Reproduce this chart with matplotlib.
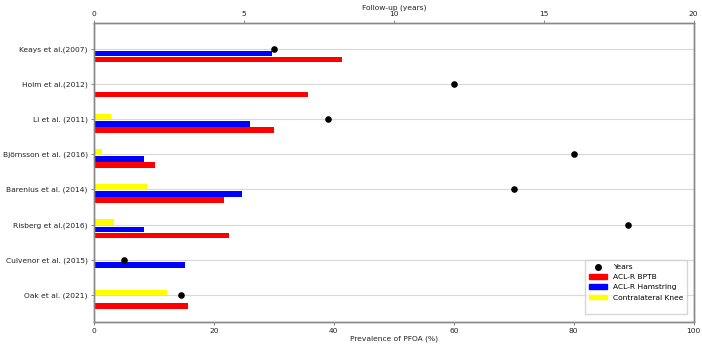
import numpy as np
import matplotlib.pyplot as plt
from matplotlib.lines import Line2D
from matplotlib.patches import Patch

studies = ['Keays et al.(2007)', 'Holm et al.(2012)', 'Li et al. (2011)',
           'Björnsson et al. (2016)', 'Barenius et al. (2014)',
           'Risberg et al.(2016)', 'Culvenor et al. (2015)', 'Oak et al. (2021)']
bptb = [41.4, 35.7, 30.0, 10.1, 21.6, 22.5, 0, 15.7]
hamstring = [29.6, 0, 26.0, 8.3, 24.6, 8.3, 15.2, 0]
contralateral = [0, 0, 2.8, 1.3, 8.8, 3.3, 0, 12.2]
years = [6.0, 12.0, 7.8, 16.0, 14.0, 17.8, 1.0, 2.9]

ind = np.arange(len(studies))
h = 0.16
fs = 5.4

fig = plt.figure(figsize=(7.02, 3.46), dpi=100)
ax = fig.add_axes([0.134, 0.070, 0.854, 0.864])
ax.barh(ind - 0.07, contralateral, height=h, color='yellow')
ax.barh(ind + 0.14, hamstring, height=h, color='blue')
ax.barh(ind + 0.31, bptb, height=h, color='red')
ax.set_xlim(0, 100)
ax.set_ylim(7.76, -0.73)
ax.set_yticks(ind)
ax.set_yticklabels(studies)
ax.grid(axis='y', color='#d8d8d8', linewidth=0.8)
ax.set_axisbelow(True)
ax.set_xlabel('Prevalence of PFOA (%)', fontsize=fs, labelpad=1, color='#222222')
ax.tick_params(labelsize=fs, length=2.5, width=0.6, color='#777777', pad=2,
               labelcolor='#222222')
for s in ax.spines.values():
    s.set_color('#888888')
    s.set_linewidth(1.0)

ax2 = ax.twiny()
ax2.scatter(years, ind, color='black', s=14, zorder=3)
ax2.set_xlim(0, 20)
ax2.set_xticks([0, 5, 10, 15, 20])
ax2.set_xlabel('Follow-up (years)', fontsize=fs, labelpad=1, color='#222222')
ax2.tick_params(labelsize=fs, length=2.5, width=0.6, color='#777777', pad=1.5,
                labelcolor='#222222')
for s in ax2.spines.values():
    s.set_color('#888888')
    s.set_linewidth(1.0)

handles = [Line2D([], [], marker='o', color='black', linestyle='None', markersize=4),
           Patch(color='red'), Patch(color='blue'), Patch(color='yellow'),
           Patch(color='none')]
labels = ['Years', 'ACL-R BPTB', 'ACL-R Hamstring', 'Contralateral Knee', '']
ax2.legend(handles, labels, loc='lower right', fontsize=fs, handlelength=2.4,
           handleheight=0.6, labelspacing=0.55, borderpad=0.5,
           bbox_to_anchor=(0.995, 0.012), fancybox=False)

fig.savefig('out.png', dpi=100)
